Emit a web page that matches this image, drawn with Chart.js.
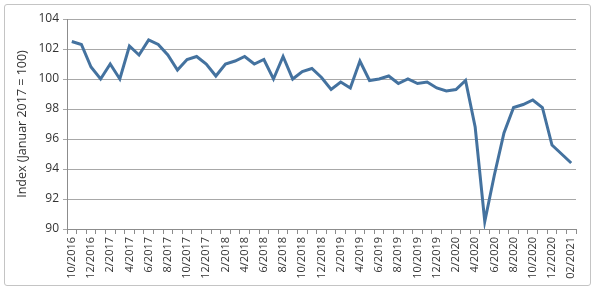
<!DOCTYPE html>
<html>
<head>
<meta charset="utf-8">
<script src="https://cdn.jsdelivr.net/npm/chart.js@4"></script>
<style>
  body { margin: 0; background: #fff; }
  #wrap { position: relative; width: 600px; height: 291px; }
  #frame { position: absolute; left: 4px; top: 4px; width: 585px; height: 280px;
           border: 1px solid #c4c4c4; border-radius: 3px; pointer-events: none; }
</style>
</head>
<body>
<div id="wrap">
  <canvas id="chart" width="600" height="291"></canvas>
  <div id="frame"></div>
</div>
<script>
const months = [
  '10/2016', '11/2016', '12/2016',
  '1/2017', '2/2017', '3/2017', '4/2017', '5/2017', '6/2017', '7/2017', '8/2017', '9/2017', '10/2017', '11/2017', '12/2017',
  '1/2018', '2/2018', '3/2018', '4/2018', '5/2018', '6/2018', '7/2018', '8/2018', '9/2018', '10/2018', '11/2018', '12/2018',
  '1/2019', '2/2019', '3/2019', '4/2019', '5/2019', '6/2019', '7/2019', '8/2019', '9/2019', '10/2019', '11/2019', '12/2019',
  '1/2020', '2/2020', '3/2020', '4/2020', '5/2020', '6/2020', '7/2020', '8/2020', '9/2020', '10/2020', '11/2020', '12/2020',
  '01/2021', '02/2021'
];

const indexValues = [
  102.5, 102.3, 100.8,
  100.0, 101.0, 100.0, 102.2, 101.6, 102.6, 102.3, 101.6, 100.6, 101.3, 101.5, 101.0,
  100.2, 101.0, 101.2, 101.5, 101.0, 101.3, 100.0, 101.5, 100.0, 100.5, 100.7, 100.1,
  99.3, 99.8, 99.4, 101.2, 99.9, 100.0, 100.2, 99.7, 100.0, 99.7, 99.8, 99.4,
  99.2, 99.3, 99.9, 96.8, 90.5, 93.6, 96.4, 98.1, 98.3, 98.6, 98.1, 95.6,
  95.0, 94.4
];

const yMin = 90;
const yMax = 104;
const yStep = 2;

const fontFamily = '"Open Sans", "Noto Sans", sans-serif';

new Chart(document.getElementById('chart'), {
  type: 'line',
  data: {
    labels: months,
    datasets: [{
      data: indexValues,
      borderColor: '#44729f',
      borderWidth: 3,
      pointRadius: 0,
      tension: 0,
      fill: false
    }]
  },
  options: {
    responsive: false,
    animation: false,
    layout: { padding: { left: 15, top: 19, right: 24, bottom: 8 } },
    plugins: { legend: { display: false }, tooltip: { enabled: false } },
    scales: {
      x: {
        type: 'category',
        offset: true,
        grid: { offset: true, drawOnChartArea: false, drawTicks: true, tickLength: 5, color: '#8c8c8c' },
        border: { color: '#8c8c8c' },
        ticks: {
          autoSkip: false,
          maxRotation: 90,
          minRotation: 90,
          color: '#333',
          font: { family: fontFamily, size: 11 },
          padding: 3,
          callback: function (value, index) {
            return index % 2 === 0 ? this.getLabelForValue(value) : '';
          }
        },
        afterFit: function (scale) { scale.height = 54; }
      },
      y: {
        min: yMin,
        max: yMax,
        ticks: {
          stepSize: yStep,
          color: '#333',
          font: { family: fontFamily, size: 12 },
          padding: 4
        },
        grid: { color: '#a8a8a8', lineWidth: 1, tickLength: 4 },
        border: { color: '#8c8c8c' },
        title: {
          display: true,
          text: 'Index (Januar 2017 = 100)',
          color: '#333',
          font: { family: fontFamily, size: 12.5 },
          padding: { top: 0, bottom: 4 }
        },
        afterFit: function (scale) { scale.width = 52; }
      }
    }
  }
});
</script>
</body>
</html>
